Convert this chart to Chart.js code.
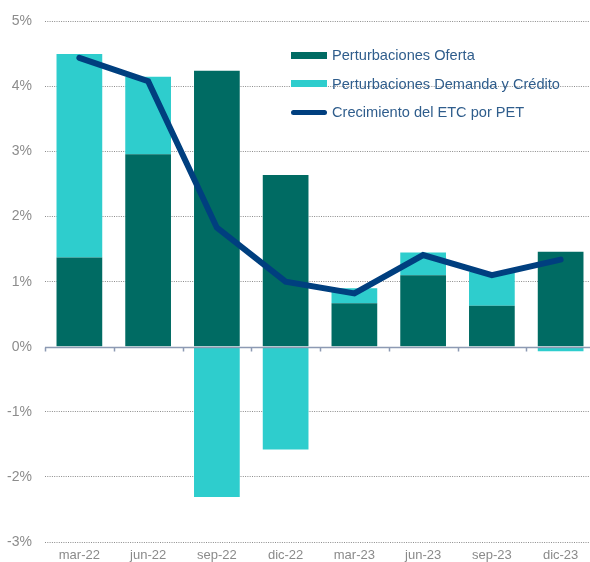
<!DOCTYPE html>
<html lang="es">
<head>
<meta charset="utf-8">
<script src="https://cdn.jsdelivr.net/npm/chart.js@4.4.1/dist/chart.umd.min.js"></script>
<style>
  html, body { margin: 0; padding: 0; background: #fff; overflow: hidden; width: 590px; height: 562px; }
  #wrap { position: absolute; left: 0; top: 0; width: 600px; height: 564px; }
  #legenda { position: absolute; left: 291px; top: 41px; font-family: 'Liberation Sans', Arial, sans-serif; font-size: 14.6px; color: #2f5d8c; }
  .voce { display: flex; align-items: center; height: 28.5px; white-space: nowrap; }
  .mk { width: 36px; margin-right: 5px; }
</style>
</head>
<body>
<div id="wrap"><canvas id="grafico"></canvas></div>
<div id="legenda"></div>
<script>
'use strict';

const categorie = ['mar-22', 'jun-22', 'sep-22', 'dic-22', 'mar-23', 'jun-23', 'sep-23', 'dic-23'];
const oferta  = [1.37, 2.96, 4.24, 2.64, 0.67, 1.10, 0.63, 1.46];
const demanda = [3.13, 1.19, -2.31, -1.58, 0.23, 0.35, 0.52, -0.07];
const etc     = [4.44, 4.08, 1.83, 1.00, 0.82, 1.41, 1.10, 1.34];
const yTicks  = [-3, -2, -1, 0, 1, 2, 3, 4, 5];

const FONT = "'Liberation Sans', Arial, sans-serif";

// linea dello zero con tacche tra le categorie
const asseZero = {
  id: 'asseZero',
  afterDatasetsDraw(chart) {
    const { ctx, chartArea, scales: { x, y } } = chart;
    const y0 = Math.round(y.getPixelForValue(0)) + 0.5;
    const step = x.getPixelForValue(1) - x.getPixelForValue(0);
    const start = x.getPixelForValue(0) - step / 2;
    ctx.save();
    ctx.strokeStyle = '#8d9ab3';
    ctx.lineWidth = 1.5;
    ctx.beginPath();
    ctx.moveTo(chartArea.left, y0);
    ctx.lineTo(chartArea.right, y0);
    for (let i = 0; i <= categorie.length; i++) {
      const xp = Math.round(start + i * step) + 0.5;
      ctx.moveTo(xp, y0);
      ctx.lineTo(xp, y0 + 4);
    }
    ctx.stroke();
    ctx.restore();
  }
};

const ctx = document.getElementById('grafico').getContext('2d');
const chart = new Chart(ctx, {
  data: {
    labels: categorie,
    datasets: [
      {
        type: 'line',
        label: 'Crecimiento del ETC por PET',
        data: etc,
        borderColor: '#003f7f',
        borderWidth: 6,
        borderCapStyle: 'round',
        borderJoinStyle: 'miter',
        pointRadius: 0,
        tension: 0,
        stack: 'etc',
        order: 0
      },
      {
        type: 'bar',
        label: 'Perturbaciones Oferta',
        data: oferta,
        backgroundColor: '#006b63',
        barPercentage: 0.665,
        categoryPercentage: 1,
        stack: 'pert',
        order: 1
      },
      {
        type: 'bar',
        label: 'Perturbaciones Demanda y Crédito',
        data: demanda,
        backgroundColor: '#2ecdcd',
        barPercentage: 0.665,
        categoryPercentage: 1,
        stack: 'pert',
        order: 2
      }
    ]
  },
  options: {
    responsive: true,
    maintainAspectRatio: false,
    animation: false,
    layout: { padding: { top: 18, left: 7, right: 5, bottom: 0 } },
    plugins: { legend: { display: false }, tooltip: { enabled: false } },
    scales: {
      x: {
        stacked: true,
        afterFit: s => { s.height = 22; },
        grid: { display: false, drawTicks: false },
        border: { display: false },
        ticks: { color: '#8a8a8a', font: { family: FONT, size: 13 }, padding: 6, maxRotation: 0 }
      },
      y: {
        stacked: true,
        min: -3,
        max: 5,
        afterBuildTicks: s => { s.ticks = yTicks.map(v => ({ value: v })); },
        afterFit: s => { s.width = 38; },
        grid: {
          color: c => (c.tick && c.tick.value === 0) ? 'rgba(0,0,0,0)' : '#8c8c8c',
          lineWidth: 1,
          drawTicks: false
        },
        border: { display: false, dash: [1, 1.3] },
        ticks: { color: '#8c8c8c', font: { family: FONT, size: 14 }, padding: 13, callback: v => v + '%' }
      }
    }
  },
  plugins: [asseZero]
});

// legenda HTML dai dataset
const legenda = document.getElementById('legenda');
[1, 2, 0].forEach(i => {
  const ds = chart.data.datasets[i];
  const riga = document.createElement('div');
  riga.className = 'voce';
  const mk = document.createElement('span');
  mk.className = 'mk';
  if (ds.type === 'line') {
    mk.style.height = '5px';
    mk.style.borderRadius = '3px';
    mk.style.background = ds.borderColor;
  } else {
    mk.style.height = '7px';
    mk.style.background = ds.backgroundColor;
  }
  const txt = document.createElement('span');
  txt.textContent = ds.label;
  riga.appendChild(mk);
  riga.appendChild(txt);
  legenda.appendChild(riga);
});
</script>
</body>
</html>
